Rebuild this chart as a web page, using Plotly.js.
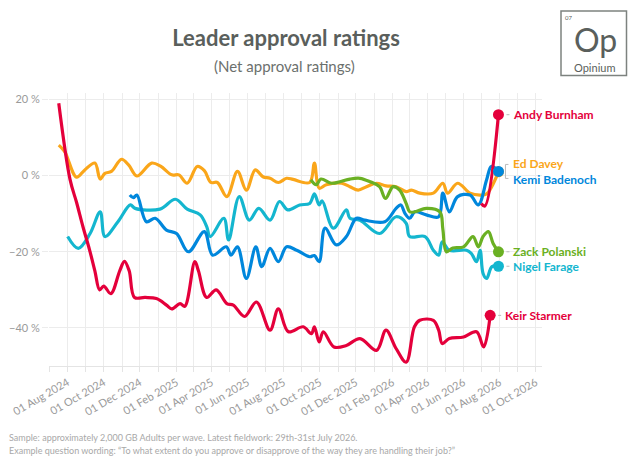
<!DOCTYPE html>
<html>
<head>
<meta charset="utf-8">
<script src="https://cdn.plot.ly/plotly-3.0.1.min.js"></script>
<style>
  html, body { margin: 0; padding: 0; background: #fff; }
  #chart { width: 640px; height: 463px; }
</style>
</head>
<body>
<div id="chart"></div>
<script>
// net approval
var starmerDates = ['2024-07-17','2024-08-05','2024-08-16','2024-08-27','2024-09-07','2024-09-16','2024-09-24','2024-10-01','2024-10-13','2024-10-28','2024-11-05','2024-11-13','2024-11-22','2024-12-10','2024-12-29','2025-01-15','2025-01-24','2025-02-07','2025-02-15','2025-03-04','2025-03-10','2025-03-24','2025-04-09','2025-04-27','2025-05-08','2025-05-27','2025-06-16','2025-07-09','2025-07-23','2025-08-09','2025-09-03','2025-09-17','2025-09-22','2025-09-30','2025-10-07','2025-10-25','2025-11-15','2025-12-08','2026-01-05','2026-01-21','2026-02-07','2026-02-24','2026-03-10','2026-03-19','2026-04-11','2026-04-20','2026-04-26','2026-05-08','2026-06-01','2026-06-23','2026-07-05','2026-07-16'];
var starmerValues = [19,-1,-7,-13.5,-19.5,-25,-30,-29,-31,-25,-22.5,-25,-32,-32,-32.3,-34,-35,-33.6,-34.3,-22.6,-25,-32,-30,-33.6,-34,-37,-33.2,-40.6,-35,-41,-39.7,-41.5,-39.7,-43.7,-41,-45,-44.6,-42.8,-45.9,-40.6,-45.4,-49,-39.7,-38,-38,-40.6,-44.1,-42.8,-42.4,-41,-45,-36.7];

var daveyDates = ['2024-07-17','2024-07-27','2024-08-16','2024-08-30','2024-09-16','2024-09-25','2024-10-03','2024-10-14','2024-10-31','2024-11-12','2024-11-26','2024-12-21','2025-01-05','2025-01-24','2025-02-05','2025-02-19','2025-03-08','2025-03-20','2025-03-31','2025-04-11','2025-04-27','2025-05-15','2025-05-30','2025-06-14','2025-06-27','2025-07-09','2025-07-23','2025-08-06','2025-08-17','2025-09-14','2025-09-22','2025-09-30','2025-10-12','2025-11-07','2025-11-21','2025-12-05','2025-12-19','2026-01-05','2026-01-21','2026-02-07','2026-02-24','2026-03-05','2026-03-19','2026-04-11','2026-04-27','2026-05-05','2026-05-22','2026-06-12','2026-06-29','2026-07-10','2026-07-30'];
var daveyValues = [8,6.3,-0.4,1.5,3.3,-0.9,0.6,1.1,4.3,2.8,-0.1,3.3,2.5,0.2,0.2,-2,2.4,1.3,-1.8,-1.8,-5.5,1.1,-3.8,1.5,-0.3,-0.7,-1.8,-0.7,-1,-1.8,3.3,-3.3,-2.4,-2,-2.9,-3.8,-2.9,-2,-2.7,-2.9,-4.2,-3.8,-4.6,-4.6,-2,-4.6,-2,-4.6,-5.1,-4.8,1];

var farageDates = ['2024-08-01','2024-08-19','2024-09-08','2024-09-25','2024-10-03','2024-10-25','2024-11-15','2024-11-23','2025-01-04','2025-01-30','2025-02-19','2025-03-13','2025-03-24','2025-03-30','2025-04-22','2025-04-30','2025-05-18','2025-06-04','2025-06-20','2025-07-09','2025-07-25','2025-08-08','2025-08-28','2025-09-14','2025-09-22','2025-09-30','2025-10-05','2025-10-24','2025-11-15','2025-11-21','2025-12-08','2026-01-10','2026-02-07','2026-02-24','2026-03-02','2026-03-28','2026-04-11','2026-04-20','2026-04-26','2026-05-08','2026-06-06','2026-06-14','2026-06-23','2026-06-29','2026-07-04','2026-07-10','2026-07-19','2026-07-30'];
var farageValues = [-16,-19.1,-15.2,-9.5,-16,-12.1,-7.7,-8.6,-8.8,-6.2,-8.8,-10.3,-13.4,-16,-11.2,-16.9,-5.5,-11.7,-8.6,-11.7,-6.8,-9,-7.7,-7.3,-4.8,-7.7,-6.6,-13.8,-9,-11.2,-11.7,-15.2,-10.8,-12.5,-16,-16,-19.6,-20.9,-17.4,-19.6,-19.6,-20.4,-22.6,-19.6,-25.7,-27,-23.9,-23.8];

var badenochDates = ['2024-11-14','2024-11-20','2024-11-26','2024-12-12','2024-12-27','2025-01-15','2025-02-01','2025-02-21','2025-03-20','2025-04-03','2025-04-26','2025-05-04','2025-05-15','2025-05-30','2025-06-15','2025-06-25','2025-07-09','2025-07-23','2025-08-06','2025-08-23','2025-09-14','2025-09-22','2025-09-30','2025-10-10','2025-10-29','2025-11-15','2025-12-02','2025-12-16','2026-01-19','2026-02-07','2026-02-15','2026-02-22','2026-03-02','2026-03-11','2026-03-30','2026-04-20','2026-04-27','2026-05-08','2026-05-22','2026-06-12','2026-06-26','2026-07-10','2026-07-18','2026-07-30'];
var badenochValues = [-5.1,-5.8,-5.1,-12.1,-11.2,-14.3,-15.2,-20,-14.7,-20.9,-18.7,-20.9,-18.7,-27,-18.7,-23.9,-19.1,-22.6,-18.7,-19.6,-21.3,-21,-22.6,-13.8,-18.2,-16,-11.2,-11.7,-12.1,-8.6,-7.7,-9.9,-11.2,-9.5,-10.3,-10.8,-4.6,-9.5,-5.5,-5.1,-7.7,-1.1,2.4,1.1];

var polanskiDates = ['2025-09-16','2025-09-25','2025-10-03','2025-10-21','2025-11-04','2025-11-21','2025-12-08','2025-12-25','2026-01-10','2026-01-20','2026-02-02','2026-02-13','2026-02-24','2026-03-02','2026-03-11','2026-03-30','2026-04-22','2026-04-27','2026-05-03','2026-05-14','2026-06-01','2026-06-17','2026-06-26','2026-07-04','2026-07-13','2026-07-21','2026-07-30'];
var polanskiValues = [-1.1,-2.4,-0.9,-2,-1.6,-0.9,-0.7,-1.6,-2.9,-6,-2.9,-3.8,-7.3,-9.5,-9.5,-8.6,-9.5,-14,-20,-19,-18.7,-16,-18.7,-16,-14.7,-17.8,-20];

var burnhamDates = ['2026-07-01','2026-07-07','2026-07-30'];
var burnhamValues = [-7.3,-8,16];

// drawing order: first is underneath
var leaderNames = ['Nigel Farage','Ed Davey','Kemi Badenoch','Zack Polanski','Keir Starmer','Andy Burnham'];
var leaderColors = ['#14b6cf','#faa61a','#0087dc','#6ab023','#e4003b','#e4003b'];
var leaderDates = [farageDates, daveyDates, badenochDates, polanskiDates, starmerDates, burnhamDates];
var leaderValues = [farageValues, daveyValues, badenochValues, polanskiValues, starmerValues, burnhamValues];

var footNotes = [
    'Sample: approximately 2,000 GB Adults per wave. Latest fieldwork: 29th-31st July 2026.',
    'Example question wording: \u201cTo what extent do you approve or disapprove of the way they are handling their job?\u201d'
];

var W = 640, H = 463;
var M = {l: 49, r: 98, t: 93, b: 97};
function px(x) { return (x - M.l) / (W - M.l - M.r); }
function py(y) { return (H - M.b - y) / (H - M.t - M.b); }

var FONT = 'Lato, "Open Sans", sans-serif';
var GREY = '#5a5f5c';
var GRID = '#ececec';

// label nudges so Ed Davey / Kemi Badenoch don't sit on top of each other
var labelShift = {'Ed Davey': 8.5, 'Kemi Badenoch': -8};

function makeTraces() {
    var traces = [];
    for (var i = 0; i < leaderNames.length; i++) {
        traces.push({
            x: leaderDates[i],
            y: leaderValues[i],
            type: 'scatter',
            mode: 'lines',
            name: leaderNames[i],
            line: {color: leaderColors[i], width: 3.2, shape: 'spline', smoothing: 1},
            hoverinfo: 'skip'
        });
    }
    for (var i = 0; i < leaderNames.length; i++) {
        var n = leaderDates[i].length - 1;
        traces.push({
            x: [leaderDates[i][n]],
            y: [leaderValues[i][n]],
            type: 'scatter',
            mode: 'markers',
            marker: {color: leaderColors[i], size: 11},
            hoverinfo: 'skip'
        });
    }
    return traces;
}

function makeLabels() {
    var notes = [];
    var shapes = [];
    for (var i = 0; i < leaderNames.length; i++) {
        var n = leaderDates[i].length - 1;
        var lastX = leaderDates[i][n];
        var lastY = leaderValues[i][n];
        var shift = labelShift[leaderNames[i]] || 0;
        notes.push({
            x: lastX, y: lastY, xref: 'x', yref: 'y',
            text: leaderNames[i], showarrow: false,
            xanchor: 'left', yanchor: 'middle',
            xshift: 13, yshift: shift,
            font: {family: FONT, size: 12, color: leaderColors[i], weight: 'bold'}
        });
        if (shift === 0) {
            shapes.push({
                type: 'line', xref: 'x', yref: 'y',
                xsizemode: 'pixel', ysizemode: 'pixel',
                xanchor: lastX, yanchor: lastY,
                x0: 8, x1: 11, y0: 0, y1: 0,
                line: {color: '#bbbbbb', width: 1}
            });
        }
    }
    // bracket joining the two overlapping end points
    var k = leaderNames.indexOf('Kemi Badenoch');
    var kx = leaderDates[k][leaderDates[k].length - 1];
    var ky = leaderValues[k][leaderValues[k].length - 1];
    var segs = [[7, 7, -7, 7], [7, 10, 7, 7], [7, 10, -7, -7]];
    for (var s = 0; s < segs.length; s++) {
        shapes.push({
            type: 'line', xref: 'x', yref: 'y',
            xsizemode: 'pixel', ysizemode: 'pixel',
            xanchor: kx, yanchor: ky,
            x0: segs[s][0], x1: segs[s][1], y0: segs[s][2], y1: segs[s][3],
            line: {color: '#bbbbbb', width: 1}
        });
    }
    return {notes: notes, shapes: shapes};
}

function drawChart() {
    var labels = makeLabels();
    var notes = labels.notes;
    var shapes = labels.shapes;

    notes.push({
        xref: 'paper', yref: 'paper', x: px(284), y: py(66),
        text: '(Net approval ratings)', showarrow: false,
        xanchor: 'center', yanchor: 'middle',
        font: {family: FONT, size: 15, color: '#6b706d'}
    });

    for (var i = 0; i < footNotes.length; i++) {
        notes.push({
            xref: 'paper', yref: 'paper', x: px(7), y: py(437 + i * 13),
            text: footNotes[i], showarrow: false,
            xanchor: 'left', yanchor: 'middle',
            font: {family: FONT, size: 9, color: '#a8a8a8'}
        });
    }

    // Opinium logo
    shapes.push({
        type: 'rect', xref: 'paper', yref: 'paper',
        x0: px(561), x1: px(626.5), y0: py(75.5), y1: py(11),
        line: {color: '#7d827f', width: 1.5}
    });
    notes.push({xref: 'paper', yref: 'paper', x: px(564), y: py(17), text: '07', showarrow: false,
        xanchor: 'left', yanchor: 'middle', borderpad: 0, font: {family: FONT, size: 6, color: GREY}});
    notes.push({xref: 'paper', yref: 'paper', x: px(595), y: py(39), text: 'Op', showarrow: false,
        xanchor: 'center', yanchor: 'middle', borderpad: 0, font: {family: FONT, size: 32, color: GREY}});
    notes.push({xref: 'paper', yref: 'paper', x: px(594), y: py(67.5), text: 'Opinium', showarrow: false,
        xanchor: 'center', yanchor: 'middle', borderpad: 0, font: {family: FONT, size: 11, color: GREY}});

    var layout = {
        width: W,
        height: H,
        margin: M,
        paper_bgcolor: '#ffffff',
        plot_bgcolor: '#ffffff',
        showlegend: false,
        title: {
            text: 'Leader approval ratings',
            x: 286 / W,
            xanchor: 'center',
            y: 1 - 38 / H,
            yref: 'container',
            yanchor: 'middle',
            font: {family: FONT, size: 22, color: GREY, weight: 'bold'}
        },
        xaxis: {
            type: 'date',
            range: ['2024-06-30 12:00', '2026-10-11 14:00'],
            tick0: '2024-08-01',
            dtick: 'M2',
            tickformat: '%d %b %Y',
            tickangle: -30,
            tickfont: {family: FONT, size: 11, color: '#9a9a9a'},
            showgrid: true,
            gridcolor: GRID,
            gridwidth: 1,
            ticks: 'outside',
            ticklen: 5,
            tickcolor: '#e4e4e4',
            showline: true,
            linecolor: '#e4e4e4',
            zeroline: false,
            minor: {
                dtick: 'M1',
                tick0: '2024-08-01',
                showgrid: true,
                gridcolor: GRID,
                ticks: 'outside',
                ticklen: 5,
                tickcolor: '#e4e4e4'
            }
        },
        yaxis: {
            range: [-50, 21.7],
            tick0: 0,
            dtick: 20,
            ticksuffix: ' %',
            tickfont: {family: FONT, size: 11, color: '#9a9a9a'},
            showgrid: true,
            gridcolor: GRID,
            ticks: 'outside',
            ticklen: 6,
            tickcolor: GRID,
            zeroline: false,
            showline: false
        },
        annotations: notes,
        shapes: shapes
    };

    Plotly.newPlot('chart', makeTraces(), layout, {displayModeBar: false, staticPlot: true});
}

drawChart();
</script>
</body>
</html>
